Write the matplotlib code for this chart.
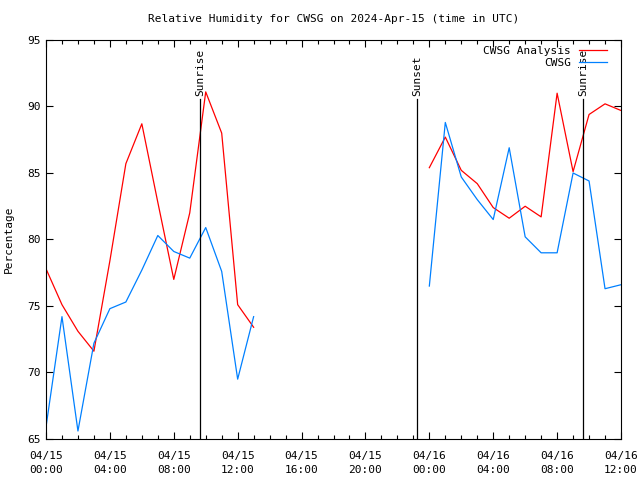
import matplotlib
matplotlib.use('Agg')
import matplotlib.pyplot as plt
from matplotlib.ticker import MultipleLocator

# ============ Data (hours since 04/15 00:00 UTC) ============
hours_day1 = [0, 1, 2, 3, 4, 5, 6, 7, 8, 9, 10, 11, 12, 13]
hours_day2 = [24, 25, 26, 27, 28, 29, 30, 31, 32, 33, 34, 35, 36]

analysis_day1 = [77.8, 75.1, 73.1, 71.6, 78.4, 85.7, 88.7, 82.8, 77.0, 82.0, 91.1, 88.0, 75.1, 73.4]
analysis_day2 = [85.4, 87.7, 85.2, 84.2, 82.4, 81.6, 82.5, 81.7, 91.0, 85.1, 89.4, 90.2, 89.7]

obs_day1 = [65.9, 74.2, 65.6, 72.2, 74.8, 75.3, 77.7, 80.3, 79.1, 78.6, 80.9, 77.6, 69.5, 74.2]
obs_day2 = [76.5, 88.8, 84.7, 83.0, 81.5, 86.9, 80.2, 79.0, 79.0, 85.0, 84.4, 76.3, 76.6]

sun_events = ['Sunrise', 'Sunset', 'Sunrise']
sun_hours = [9.66, 23.25, 33.65]

tick_hours = [0, 4, 8, 12, 16, 20, 24, 28, 32, 36]
tick_labels = ['04/15\n00:00', '04/15\n04:00', '04/15\n08:00', '04/15\n12:00',
               '04/15\n16:00', '04/15\n20:00', '04/16\n00:00', '04/16\n04:00',
               '04/16\n08:00', '04/16\n12:00']

plt.rcParams['font.family'] = 'DejaVu Sans Mono'
plt.rcParams['font.size'] = 8

fig = plt.figure(figsize=(6.4, 4.8), dpi=100)
ax = fig.add_axes([46 / 640, 41 / 480, 575 / 640, 399 / 480])

red = '#ff0000'
blue = '#0080ff'

ax.plot(hours_day1, analysis_day1, color=red, lw=0.9, label='CWSG Analysis')
ax.plot(hours_day2, analysis_day2, color=red, lw=0.9)
ax.plot(hours_day1, obs_day1, color=blue, lw=0.9, label='CWSG')
ax.plot(hours_day2, obs_day2, color=blue, lw=0.9)

for name, h in zip(sun_events, sun_hours):
    ax.plot([h, h], [65, 90.55], color='black', lw=0.9)
    ax.text(h, 90.8, name, rotation=90, ha='center', va='bottom', fontsize=8)

ax.set_xlim(0, 36)
ax.set_ylim(65, 95)
ax.set_xticks(tick_hours)
ax.set_xticklabels(tick_labels, linespacing=1.45)
ax.xaxis.set_minor_locator(MultipleLocator(1))
ax.yaxis.set_major_locator(MultipleLocator(5))
ax.tick_params(which='both', direction='in', top=True, right=True, width=0.8)
ax.tick_params(which='major', length=5, labelsize=8)
ax.tick_params(which='minor', length=3)
ax.tick_params(axis='x', pad=9)

ax.set_ylabel('Percentage', fontsize=8, labelpad=10)
ax.set_title('Relative Humidity for CWSG on 2024-Apr-15 (time in UTC)', fontsize=8, pad=13)

ax.legend(loc='upper right', bbox_to_anchor=(1 - 8 / 575, 1.0), frameon=False,
          markerfirst=False, handlelength=2.6, fontsize=8, borderaxespad=0.1,
          labelspacing=0.25, handletextpad=0.7)

fig.savefig('out.png', dpi=100)
